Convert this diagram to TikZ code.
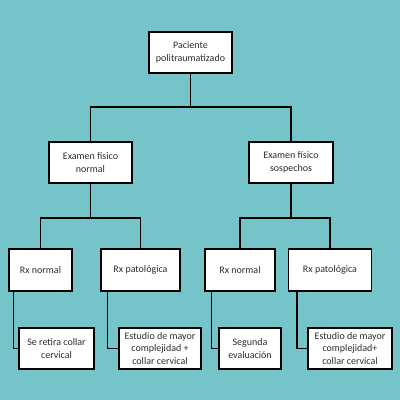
\documentclass[tikz,border=0pt]{standalone}
\usepackage{fontspec}
\setmainfont{Carlito}
\definecolor{bgteal}{RGB}{116,196,201}
\definecolor{txt}{RGB}{45,45,45}
\tikzset{
  box/.style={draw=black, line width=1.4pt, fill=white, align=center, inner sep=1pt,
    font=\fontsize{10}{12.5}\selectfont, text=txt},
  conn/.style={draw=black, line width=1.4pt}
}
\begin{document}
\begin{tikzpicture}[x=1pt,y=-1pt]
\fill[bgteal] (0,0) rectangle (400,400);
\useasboundingbox (0,0) rectangle (400,400);
\node[box, minimum width=83pt, minimum height=41pt] (top) at (190.5,52.5) {Paciente\\politraumatizado};
\node[box, minimum width=83pt, minimum height=41pt] (efn) at (90.5,162.5) {Examen fisico\\normal};
\node[box, minimum width=84pt, minimum height=41pt] (efs) at (291,162.5) {Examen físico\\sospechos};
\node[box, minimum width=63pt, minimum height=42pt] (rxn1) at (40.5,270) {Rx normal};
\node[box, minimum width=79pt, minimum height=42pt] (rxp1) at (140.5,270) {Rx patológica};
\node[box, minimum width=70pt, minimum height=42pt] (rxn2) at (240,270) {Rx normal};
\node[box, minimum width=83pt, minimum height=42pt] (rxp2) at (330,270) {Rx patológica};
\node[box, minimum width=75pt, minimum height=41pt] (se) at (56.5,348.5) {Se retira collar\\cervical};
\node[box, minimum width=82pt, minimum height=41pt] (est1) at (160,348.5) {Estudio de mayor\\complejidad +\\collar cervical};
\node[box, minimum width=62pt, minimum height=41pt] (seg) at (250,348.5) {Segunda\\evaluación};
\node[box, minimum width=84pt, minimum height=41pt] (est2) at (350,348.5) {Estudio de mayor\\complejidad+\\collar cervical};
\coordinate (j1) at (190.5,107);
\coordinate (j2) at (90.5,218);
\coordinate (j3) at (291,218);
\draw[conn] (top.south) -- (j1);
\draw[conn] (efn.north) |- (j1) -| (efs.north);
\draw[conn] (efn.south) -- (j2);
\draw[conn] (rxn1.north) |- (j2) -| (rxp1.north);
\draw[conn] (efs.south) -- (j3);
\draw[conn] (rxn2.north) |- (j3) -| (rxp2.north);
\draw[conn] ([xshift=5pt]rxn1.south west) |- (se.west);
\draw[conn] ([xshift=7pt]rxp1.south west) |- (est1.west);
\draw[conn] ([xshift=7pt]rxn2.south west) |- (seg.west);
\draw[conn] ([xshift=9pt]rxp2.south west) |- (est2.west);
\end{tikzpicture}
\end{document}
